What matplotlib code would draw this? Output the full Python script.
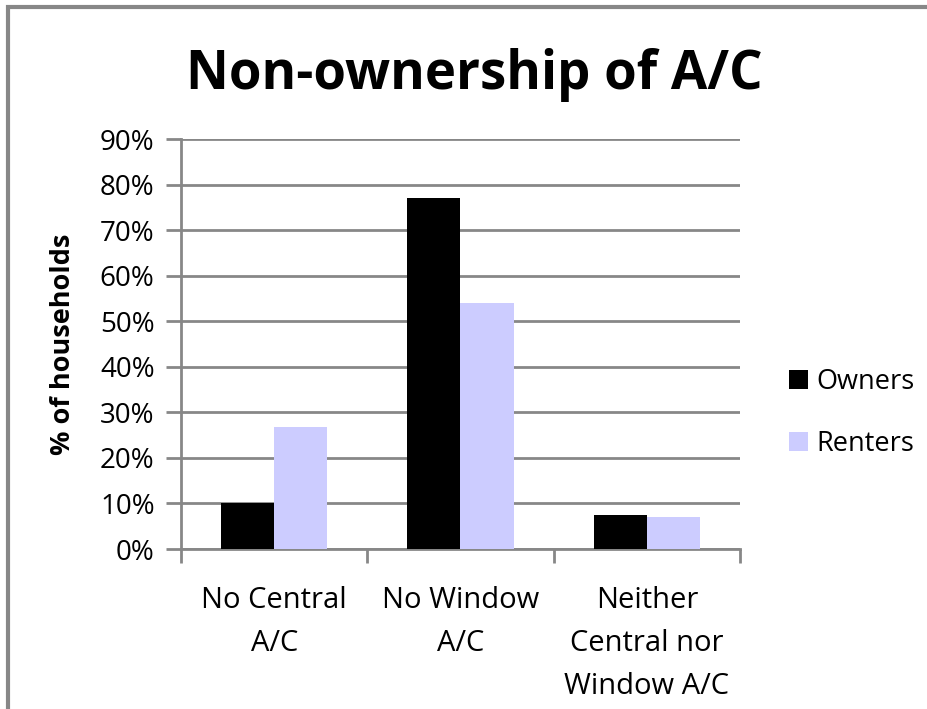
import matplotlib.pyplot as plt
from matplotlib.patches import Rectangle
import numpy as np

categories = ["No Central\nA/C", "No Window\nA/C", "Neither\nCentral nor\nWindow A/C"]
owners = [10.0, 77.0, 7.5]
renters = [26.8, 53.9, 7.0]

plt.rcParams['font.family'] = ['Open Sans', 'DejaVu Sans']

fig = plt.figure(figsize=(9.28, 7.09), dpi=100)
ax = fig.add_axes([181 / 928, 1 - 549 / 709, 559 / 928, 410 / 709])

x = np.arange(len(categories))
w = 0.285
ax.bar(x - w / 2, owners, w, color='black', label='Owners', zorder=3)
ax.bar(x + w / 2, renters, w, color='#CCCCFF', label='Renters', zorder=3)

grid = '#878787'
ax.set_xlim(-0.5, 2.5)
ax.set_ylim(0, 90)
ax.set_yticks(np.arange(0, 91, 10))
ax.set_yticklabels([f"{v}%" for v in range(0, 91, 10)], fontsize=20)
ax.yaxis.grid(True, color=grid, linewidth=2, zorder=0)
ax.set_xticks([-0.5, 0.5, 1.5, 2.5])
ax.set_xticklabels([])
ax.set_xticks(x, minor=True)
ax.set_xticklabels(categories, minor=True, fontsize=21, linespacing=1.62, va='top')
ax.tick_params(axis='x', which='minor', length=0, pad=27)
ax.tick_params(axis='x', which='major', length=10, width=2, color=grid)
ax.tick_params(axis='y', length=11, width=2, color=grid, pad=8)
for s in ['top', 'right']:
    ax.spines[s].set_visible(False)
for s in ['left', 'bottom']:
    ax.spines[s].set_color(grid)
    ax.spines[s].set_linewidth(2)

ax.set_ylabel('% of households', fontsize=19.5, fontweight='bold', labelpad=17)
fig.text(474 / 928, 1 - 75 / 709, 'Non-ownership of A/C', fontsize=38,
         fontweight='bold', ha='center', va='center')

fig.legend(loc='center left', bbox_to_anchor=(775 / 928, 1 - 413 / 709),
           frameon=False, fontsize=19.5, handlelength=0.72, handleheight=0.72,
           handletextpad=0.3, labelspacing=1.25, borderpad=0)

fig.patches.append(Rectangle((8 / 928, -0.1), 2, 1 - 7 / 709 + 0.1,
                             transform=fig.transFigure, fill=False,
                             edgecolor=grid, linewidth=3))

fig.savefig('out.png', dpi=100)
